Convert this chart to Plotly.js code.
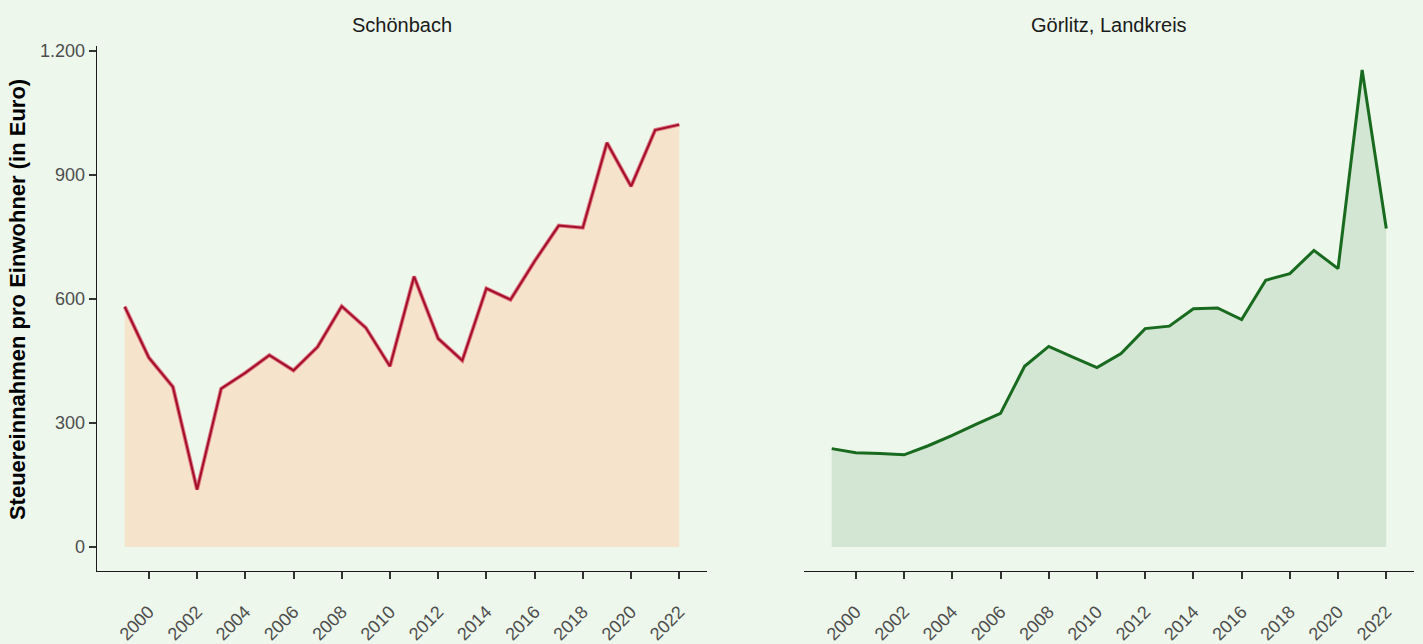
<!DOCTYPE html>
<html>
<head>
<meta charset="utf-8">
<script src="https://cdn.plot.ly/plotly-3.0.1.min.js"></script>
<style>
html,body{margin:0;padding:0;background:#EDF7EC;}
#chart{width:1423px;height:644px;}
</style>
</head>
<body>
<div id="chart"></div>
<script>
const years = [1999,2000,2001,2002,2003,2004,2005,2006,2007,2008,2009,2010,2011,2012,2013,2014,2015,2016,2017,2018,2019,2020,2021,2022];
const schoenbach = [581,458,387,139,383,421,464,427,484,582,530,437,654,504,451,625,598,691,777,772,977,872,1008,1021];
const goerlitz = [238,228,226,223,245,270,297,323,437,485,459,434,468,528,534,576,578,550,645,661,717,673,1153,770];
const panelTitles = ["Schönbach", "Görlitz, Landkreis"];
const yAxisTitle = "Steuereinnahmen pro Einwohner (in Euro)";
const yTickVals = [0,300,600,900,1200];
const xTickVals = [2000,2002,2004,2006,2008,2010,2012,2014,2016,2018,2020,2022];

const font = "Liberation Sans, Arial, sans-serif";
const bg = "#EDF7EC";

const traces = [
  {x: years, y: schoenbach, type: "scatter", mode: "lines", fill: "tozeroy",
   fillcolor: "#F5E3CC", line: {color: "rgba(214,80,100,0.75)", width: 4}, xaxis: "x", yaxis: "y"},
  {x: years, y: schoenbach, type: "scatter", mode: "lines",
   line: {color: "#A50E2B", width: 2}, xaxis: "x", yaxis: "y"},
  {x: years, y: goerlitz, type: "scatter", mode: "lines", fill: "tozeroy",
   fillcolor: "#D3E5D3", line: {color: "#186A1E", width: 3}, xaxis: "x2", yaxis: "y2"}
];

const xCommon = {
  range: [1997.85, 2023.15], tickvals: xTickVals, ticktext: xTickVals.map(String),
  tickangle: -45, ticks: "outside", ticklen: 7, tickwidth: 2, tickcolor: "#333333",
  ticklabelstandoff: 15,
  showline: true, linecolor: "#1a1a1a", linewidth: 1.3, showgrid: false, zeroline: false,
  tickfont: {family: font, size: 18, color: "#4D4D4D"}
};
const yRange = [-57.7, 1211];

const layout = {
  width: 1423, height: 644,
  paper_bgcolor: bg, plot_bgcolor: bg,
  margin: {l: 0, r: 0, t: 46, b: 73},
  showlegend: false,
  separators: ",.",
  xaxis: Object.assign({}, xCommon, {domain: [97/1423, 707/1423], anchor: "y"}),
  xaxis2: Object.assign({}, xCommon, {domain: [804/1423, 1414/1423], anchor: "y2"}),
  yaxis: {
    range: yRange, tickvals: yTickVals, separatethousands: true, tickformat: ",d",
    ticks: "outside", ticklen: 7, tickwidth: 2, tickcolor: "#333333",
    showline: true, linecolor: "#1a1a1a", linewidth: 1.3, showgrid: false, zeroline: false,
    tickfont: {family: font, size: 18, color: "#4D4D4D"}, anchor: "x"
  },
  yaxis2: {
    range: yRange, showticklabels: false, ticks: "", showline: false,
    showgrid: false, zeroline: false, anchor: "x2"
  },
  annotations: [
    {text: panelTitles[0], xref: "paper", yref: "paper", x: 402/1423, y: 1, yshift: 21,
     xanchor: "center", yanchor: "middle", showarrow: false, font: {family: font, size: 20, color: "#1A1A1A"}},
    {text: panelTitles[1], xref: "paper", yref: "paper", x: 1109/1423, y: 1, yshift: 21,
     xanchor: "center", yanchor: "middle", showarrow: false, font: {family: font, size: 20, color: "#1A1A1A"}},
    {text: "<b>" + yAxisTitle + "</b>", xref: "paper", yref: "paper", x: 17/1423, y: 0.516,
     xanchor: "center", yanchor: "middle", textangle: -90, showarrow: false,
     font: {family: font, size: 22, color: "#000000"}}
  ]
};

Plotly.newPlot("chart", traces, layout, {displayModeBar: false, staticPlot: true});
</script>
</body>
</html>
